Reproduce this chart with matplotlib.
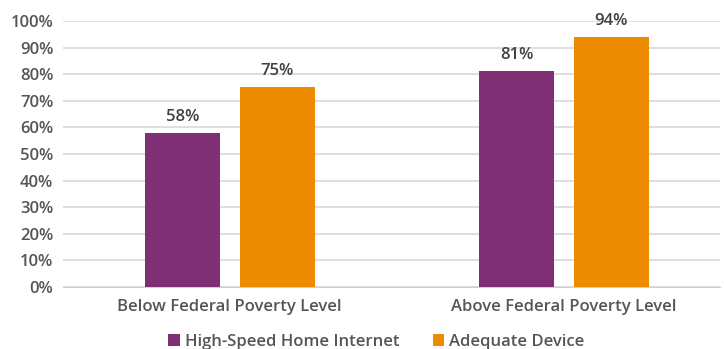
import numpy as np
import matplotlib.pyplot as plt

categories = ["Below Federal Poverty Level", "Above Federal Poverty Level"]
series_names = ["High-Speed Home Internet", "Adequate Device"]
internet = [58, 81]
device = [75, 94]
colors = ["#7f3074", "#ec8a00"]
text_color = "#555555"

plt.rcParams['font.family'] = ['Open Sans', 'DejaVu Sans']
plt.rcParams['font.weight'] = 'semibold'

fig = plt.figure(figsize=(7.24, 3.49), dpi=100)
ax = fig.add_axes([0.087, 0.178, 0.907, 0.762])

x = np.arange(len(categories))
w = 0.224
gap = 0.03
for vals, off, c, name in [(internet, -(w / 2 + gap), colors[0], series_names[0]),
                           (device, w / 2 + gap, colors[1], series_names[1])]:
    bars = ax.bar(x + off, vals, width=w, color=c, label=name, zorder=3)
    for b, v in zip(bars, vals):
        ax.text(b.get_x() + b.get_width() / 2, v + 3, f"{v}%", ha='center', va='bottom',
                fontsize=12, color="#404040")

ax.set_xlim(-0.499, 1.466)
ax.set_ylim(0, 100)
ax.set_yticks(range(0, 101, 10))
ax.set_yticklabels([f"{v}%" for v in range(0, 101, 10)], fontsize=12, color=text_color)
ax.set_xticks(x)
ax.set_xticklabels(categories, fontsize=12, color=text_color)
ax.tick_params(length=0, pad=7)
ax.tick_params(axis='x', pad=9)
ax.grid(axis='y', color='#d9d9d9', lw=1.2, zorder=0)
for s in ['top', 'right', 'left']:
    ax.spines[s].set_visible(False)
ax.spines['bottom'].set_color('#d0d0d0')

fig.legend(loc='lower center', bbox_to_anchor=(0.52, -0.045), ncol=2, frameon=False,
           fontsize=12, handlelength=0.7, handleheight=0.7, handletextpad=0.3,
           columnspacing=2.0, labelcolor=text_color)

fig.savefig("out.png", dpi=100)
